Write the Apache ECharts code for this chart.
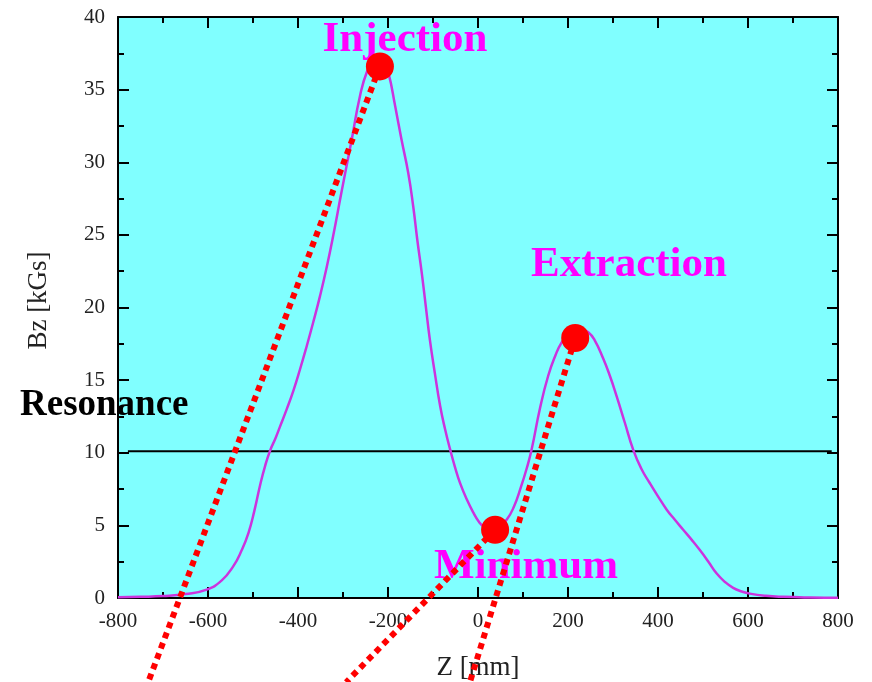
<!DOCTYPE html>
<html>
<head>
<meta charset="utf-8">
<script src="https://cdn.jsdelivr.net/npm/echarts@6/dist/echarts.min.js"></script>
<style>
html,body{margin:0;padding:0;background:#fff;}
#c{width:872px;height:682px;}
</style>
</head>
<body>
<div id="c"></div>
<script>
// Field profile Bz(Z)
const zValues = [-800,-750,-700,-650,-603,-570,-544,-525,-510,-497,-484,-473,-462,-450,-440,-425,-410,-395,-381,-366,-351,-336,-322,-303,-281,-262,-246,-232,-220,-210,-199,-184,-170,-155,-144,-135,-125,-116,-107,-96,-84,-73,-62,-51,-40,-25,-10,2,12,30,48,64,80,95,108,119,138,156,172,186,200,215,230,245,260,278,293,308,326,345,363,382,400,419,437,456,475,493,512,530,549,567,586,604,640,678,740,800];
const bzValues = [0.05,0.08,0.13,0.27,0.58,1.2,2.18,3.3,4.49,6.0,7.8,9.1,10.15,11.0,11.8,13.0,14.3,15.8,17.3,19.0,20.8,22.8,24.9,28.0,31.5,34.6,36.3,37.0,37.2,37.0,36.15,33.85,31.56,29.26,26.97,24.68,22.38,20.08,17.79,15.5,13.2,11.6,10.23,9.0,7.93,6.8,5.86,5.25,4.94,4.7,4.95,5.4,6.3,7.6,8.9,10.2,13.1,15.3,16.7,17.6,18.1,18.35,18.45,18.3,17.7,16.5,15.3,13.9,12.1,10.2,8.9,7.9,7.0,6.1,5.4,4.7,4.0,3.3,2.5,1.7,1.1,0.7,0.45,0.3,0.15,0.08,0.03,0.01];

// Marked points
const pointNames = ['Injection','Minimum','Extraction'];
const pointZ = [-218, 38, 216];
const pointBz = [36.6, 4.7, 17.9];

// Dotted guide lines: from each point to where it leaves the picture
const guideEndZ = [-733, -293, -18];
const guideEndBz = [-5.8, -5.8, -5.8];

// Resonance level
const resonanceBz = 10.1;
const resonanceZ = [-778, 786];

// Axis ticks
const xTicks = {min:-800, max:800, interval:200};
const yTicks = {min:0, max:40, interval:5};

const serif = '"Liberation Serif", "Times New Roman", serif';

const curve = zValues.map((z,i)=>[z,bzValues[i]]);
const guideSeries = pointZ.map((z,i)=>({
  type:'line',
  data:[[z,pointBz[i]],[guideEndZ[i],guideEndBz[i]]],
  clip:false,
  symbol:'none',
  z:3,
  lineStyle:{color:'#ff0000', width:6, type:[6,5], cap:'butt'},
  silent:true
}));

function axisCommon(){
  return {
    type:'value',
    axisLine:{show:true, onZero:false, lineStyle:{color:'#000', width:2}},
    axisTick:{show:true, inside:true, length:11, lineStyle:{color:'#000', width:2}},
    minorTick:{show:true, splitNumber:2, length:6, lineStyle:{color:'#000', width:2}},
    splitLine:{show:false},
    minorSplitLine:{show:false}
  };
}

const chart = echarts.init(document.getElementById('c'));
chart.setOption({
  animation:false,
  backgroundColor:'#ffffff',
  grid:{left:118, right:34, top:17, bottom:84, show:true, backgroundColor:'#80ffff', borderWidth:0, containLabel:false, outerBoundsMode:'none'},
  xAxis:[
    Object.assign(axisCommon(), {
      position:'bottom', min:xTicks.min, max:xTicks.max, interval:xTicks.interval,
      axisLabel:{show:true, margin:13, fontFamily:serif, fontSize:21, color:'#222'},
      name:'Z [mm]', nameLocation:'middle', nameGap:56, nameMoveOverlap:false,
      nameTextStyle:{fontFamily:serif, fontSize:27, color:'#222'}
    }),
    Object.assign(axisCommon(), {
      position:'top', min:xTicks.min, max:xTicks.max, interval:xTicks.interval,
      axisLabel:{show:false}
    })
  ],
  yAxis:[
    Object.assign(axisCommon(), {
      position:'left', min:yTicks.min, max:yTicks.max, interval:yTicks.interval,
      axisLabel:{show:true, margin:13, fontFamily:serif, fontSize:21, color:'#222'},
      name:'Bz [kGs]', nameLocation:'middle', nameGap:66, nameMoveOverlap:false,
      nameTextStyle:{fontFamily:serif, fontSize:27, color:'#222', padding:[0,0,0,14]}
    }),
    Object.assign(axisCommon(), {
      position:'right', min:yTicks.min, max:yTicks.max, interval:yTicks.interval,
      axisLabel:{show:false}
    })
  ],
  graphic:[
    {type:'text', x:405, y:40, z:1, style:{text:pointNames[0], font:'bold 43px '+serif, fill:'#ff00ff', align:'center', verticalAlign:'middle'}},
    {type:'text', x:629, y:265, z:1, style:{text:pointNames[2], font:'bold 43px '+serif, fill:'#ff00ff', align:'center', verticalAlign:'middle'}},
    {type:'text', x:526, y:567, z:1, style:{text:pointNames[1], font:'bold 43px '+serif, fill:'#ff00ff', align:'center', verticalAlign:'middle'}},
    {type:'text', x:20, y:405, z:1, style:{text:'Resonance', font:'bold 37px '+serif, fill:'#000', align:'left', verticalAlign:'middle'}}
  ],
  series:[
    {
      type:'line', data:resonanceZ.map(z=>[z,resonanceBz]), symbol:'none', z:2,
      lineStyle:{color:'#000', width:2}, silent:true
    },
    {
      type:'line', data:curve, symbol:'none', smooth:0.5, z:2,
      lineStyle:{color:'#cc33dd', width:2.5}, silent:true
    },
    ...guideSeries,
    {
      type:'scatter', data:pointZ.map((z,i)=>[z,pointBz[i]]), symbol:'circle', symbolSize:28, z:5,
      itemStyle:{color:'#ff0000', opacity:1}, silent:true
    }
  ]
});
</script>
</body>
</html>
